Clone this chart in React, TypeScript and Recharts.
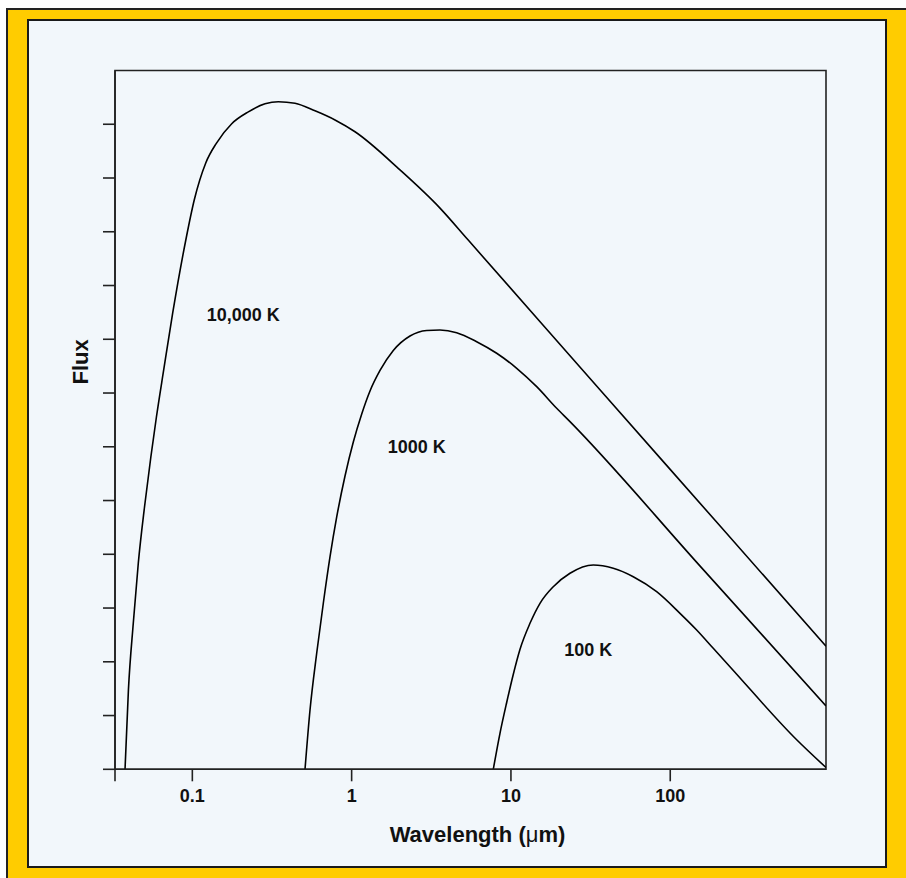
import React from 'react';
import { LineChart, Line, XAxis, YAxis, ReferenceArea, ReferenceDot, Label } from 'recharts';

// Wavelength domain (micrometres, log axis) and flux domain (log units, arbitrary)
const XMIN = 0.0327;
const XMAX = 950;
const YMIN = 0;
const YMAX = 13;

const xTicks = [XMIN, 0.1, 1, 10, 100];
const xTickLabels = ['', '0.1', '1', '10', '100'];
const yTicks = [0, 1, 2, 3, 4, 5, 6, 7, 8, 9, 10, 11, 12];

// Blackbody curves: w = wavelength (µm), f = log flux
const curve10000K = [
  { w: 0.0378, f: 0 }, { w: 0.0397, f: 1.475 }, { w: 0.0426, f: 2.722 }, { w: 0.0458, f: 3.838 },
  { w: 0.0501, f: 4.88 }, { w: 0.0549, f: 5.81 }, { w: 0.0595, f: 6.554 }, { w: 0.0661, f: 7.429 },
  { w: 0.0753, f: 8.489 }, { w: 0.091, f: 9.847 }, { w: 0.1028, f: 10.59 }, { w: 0.1214, f: 11.28 },
  { w: 0.1418, f: 11.65 }, { w: 0.1767, f: 12.01 }, { w: 0.2246, f: 12.23 }, { w: 0.2859, f: 12.38 },
  { w: 0.3465, f: 12.42 }, { w: 0.4412, f: 12.39 }, { w: 0.5891, f: 12.25 }, { w: 0.7864, f: 12.08 },
  { w: 1.05, f: 11.86 }, { w: 2.012, f: 11.15 }, { w: 3.586, f: 10.44 }, { w: 5.376, f: 9.85 },
  { w: 36.2, f: 7.06 }, { w: 205, f: 4.53 }, { w: 950, f: 2.29 },
];

const curve1000K = [
  { w: 0.5097, f: 0 }, { w: 0.5479, f: 1.103 }, { w: 0.6037, f: 2.164 }, { w: 0.6643, f: 3.094 },
  { w: 0.7313, f: 3.95 }, { w: 0.8059, f: 4.694 }, { w: 0.9087, f: 5.457 }, { w: 1.0245, f: 6.089 },
  { w: 1.157, f: 6.61 }, { w: 1.304, f: 7.038 }, { w: 1.507, f: 7.42 }, { w: 1.826, f: 7.792 },
  { w: 2.324, f: 8.061 }, { w: 2.959, f: 8.164 }, { w: 3.586, f: 8.173 }, { w: 4.564, f: 8.123 },
  { w: 6.095, f: 7.955 }, { w: 8.138, f: 7.74 }, { w: 10.87, f: 7.46 }, { w: 14.51, f: 7.118 },
  { w: 19.37, f: 6.716 }, { w: 23.48, f: 6.467 }, { w: 154, f: 3.78 }, { w: 950, f: 1.18 },
];

const curve100K = [
  { w: 7.747, f: 0 }, { w: 8.535, f: 0.67 }, { w: 9.404, f: 1.243 }, { w: 10.34, f: 1.764 },
  { w: 11.39, f: 2.229 }, { w: 13.17, f: 2.716 }, { w: 15.22, f: 3.088 }, { w: 18.44, f: 3.397 },
  { w: 23.48, f: 3.647 }, { w: 32.87, f: 3.801 }, { w: 43.87, f: 3.74 }, { w: 58.6, f: 3.583 },
  { w: 82.17, f: 3.304 }, { w: 115.1, f: 2.902 }, { w: 146.5, f: 2.592 }, { w: 186.2, f: 2.251 },
  { w: 237, f: 1.909 }, { w: 624, f: 0.545 }, { w: 950, f: 0.033 },
];

const curveLabels = ['10,000 K', '1000 K', '100 K'];
const curveLabelW = [0.209, 2.56, 30.6];
const curveLabelF = [8.45, 6.0, 2.22];

const FONT = '"Liberation Sans", Arial, Helvetica, sans-serif';
const INK = '#111111';
const AXIS = '#222222';

const XLabel = (props: any) => {
  const vb = props.viewBox || { x: 0, y: 0, width: 0, height: 0 };
  return (
    <text
      x={vb.x + vb.width / 2 + 7}
      y={vb.y + 72.5}
      textAnchor="middle"
      fontFamily={FONT}
      fontSize={22}
      fontWeight={700}
      fill={INK}
    >
      Wavelength (<tspan fontWeight={400}>μ</tspan>m)
    </text>
  );
};

export default function App() {
  const series = [curve10000K, curve1000K, curve100K];
  return (
    <div>
      <div
        style={{
          position: 'absolute', left: 6, top: 8, width: 900, height: 870,
          background: '#FFCC00', borderTop: '2px solid #222', borderLeft: '2px solid #222',
          boxSizing: 'border-box',
        }}
      />
      <div
        style={{
          position: 'absolute', left: 27, top: 19, width: 860, height: 849,
          background: '#F2F7FB', border: '2px solid #1a1a1a', boxSizing: 'border-box',
        }}
      />
      <div style={{ position: 'absolute', left: 0, top: 0, width: 906, height: 878 }}>
        <LineChart
          width={906}
          height={878}
          margin={{ top: 70.5, right: 80, left: 75, bottom: 78.7 }}
        >
          <XAxis
            dataKey="w"
            type="number"
            scale="log"
            domain={[XMIN, XMAX]}
            allowDataOverflow
            ticks={xTicks}
            interval={0}
            tickFormatter={(v: number) => xTickLabels[xTicks.indexOf(v)] ?? ''}
            tickSize={12}
            tickMargin={8}
            height={30}
            axisLine={{ stroke: AXIS, strokeWidth: 1.6 }}
            tickLine={{ stroke: AXIS, strokeWidth: 1.6 }}
            tick={{ fill: INK, fontSize: 18, fontWeight: 700, fontFamily: FONT }}
          >
            <Label content={<XLabel />} />
          </XAxis>
          <YAxis
            type="number"
            domain={[YMIN, YMAX]}
            allowDataOverflow
            ticks={yTicks}
            interval={0}
            tickFormatter={() => ''}
            tickSize={12}
            width={40}
            axisLine={{ stroke: AXIS, strokeWidth: 1.6 }}
            tickLine={{ stroke: AXIS, strokeWidth: 1.6 }}
          >
            <Label
              value="Flux"
              angle={-90}
              position="center"
              dx={-15}
              dy={-58}
              style={{ fontFamily: FONT, fontSize: 22, fontWeight: 700, fill: INK }}
            />
          </YAxis>
          <ReferenceArea
            x1={XMIN}
            x2={XMAX}
            y1={YMIN}
            y2={YMAX}
            fill="none"
            fillOpacity={0}
            stroke={AXIS}
            strokeWidth={1.6}
            ifOverflow="visible"
          />
          {series.map((d, i) => (
            <Line
              key={i}
              data={d}
              dataKey="f"
              type="monotone"
              stroke="#000"
              strokeWidth={1.6}
              dot={false}
              activeDot={false}
              isAnimationActive={false}
            />
          ))}
          {curveLabels.map((t, i) => (
            <ReferenceDot
              key={t}
              x={curveLabelW[i]}
              y={curveLabelF[i]}
              r={0}
              fill="none"
              stroke="none"
              label={{
                value: t,
                position: 'center',
                style: { fontFamily: FONT, fontSize: 18, fontWeight: 700, fill: INK },
              }}
            />
          ))}
        </LineChart>
      </div>
    </div>
  );
}
